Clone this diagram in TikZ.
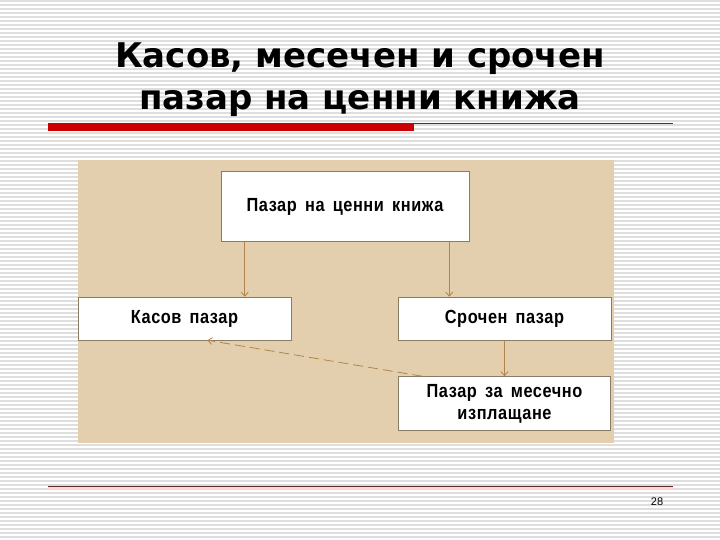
\documentclass[tikz,border=0pt]{standalone}
\usepackage{fontspec}
\setmainfont{DejaVu Sans}
\newfontfamily\boxfont[FakeStretch=0.86, LetterSpace=3, WordSpace=1.6]{Liberation Sans}
\newfontfamily\numfont{Liberation Sans}
\usetikzlibrary{arrows.meta}
\definecolor{panel}{HTML}{E3CFAE}
\definecolor{link}{HTML}{B0844C}
\definecolor{barred}{HTML}{CC0000}
\definecolor{rulered}{HTML}{5E2A2A}
\tikzset{
  stripe/.style={draw=black!13, line width=1.4pt},
  headline/.style={anchor=base, inner sep=0pt, font=\bfseries\fontsize{34}{42}\selectfont},
  box/.style={draw=panel!60!black, fill=white, line width=0.5pt, inner sep=0pt, font=\boxfont\bfseries\fontsize{19}{22}\selectfont, align=center},
  link/.style={draw=link, line width=0.8pt, -{Straight Barb[length=4pt,width=7pt]}}
}
\begin{document}
\begin{tikzpicture}[x=1pt, y=-1pt]
        \useasboundingbox (0,0) rectangle (720,540);
        \fill[white] (0,0) rectangle (720,540);
        \foreach \y in {1,5,...,537}
          \draw[stripe] (0,\y) -- (720,\y);
        \node[headline] (title1) at (360,68) {Касов, месечен и срочен};
        \node[headline] (title2) at (360,110) {пазар на ценни книжа};
        \fill[barred] (48,123) rectangle (414,131);
        \draw[rulered, line width=0.8pt] (414,123.5) -- (673,123.5);
        \fill[panel] (78,160) rectangle (614,443);
        \node[box, minimum width=248pt, minimum height=70pt] (top) at (345,206.5) {Пазар на ценни книжа};
        \node[box, minimum width=213pt, minimum height=43pt] (kasov) at (184.5,318.5) {Касов пазар};
        \node[box, minimum width=213pt, minimum height=43pt] (srochen) at (504.5,318.5) {Срочен пазар};
        \node[box, minimum width=212pt, minimum height=54pt] (mesechno) at (504.5,403.5) {Пазар за месечно\\изплащане};
        \draw[link] ([xshift=24pt]top.south west) -- ([xshift=24pt]top.south west |- kasov.north);
        \draw[link] ([xshift=-20pt]top.south east) -- ([xshift=-20pt]top.south east |- srochen.north);
        \draw[link] (srochen) -- (mesechno);
        \draw[link, dash pattern=on 10pt off 5pt] ([xshift=24pt]mesechno.north west) -- ([xshift=23pt]kasov.south);
        \draw[rulered, line width=1pt] (48,486) -- (673,486);
        \draw[red!15, line width=1.5pt] (48,488) -- (673,488);
        \node[font=\numfont\fontsize{11}{13}\selectfont] (page) at (657,502) {28};
\end{tikzpicture}
\end{document}
